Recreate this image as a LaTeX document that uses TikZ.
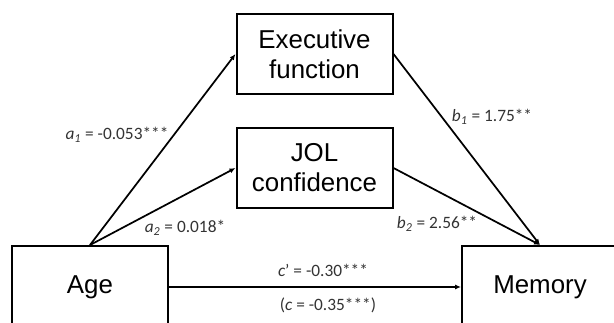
\documentclass[tikz,border=0pt]{standalone}
\usepackage{fontspec}
\setmainfont{Liberation Sans}
\newfontfamily\coeffont{Carlito}
\usepackage{tikz}
\usetikzlibrary{arrows.meta}
\definecolor{coefgray}{HTML}{333333}

\begin{document}
\begin{tikzpicture}[x=0.75pt, y=-0.75pt, >={Latex[length=4.5pt, width=3.8pt]}, line width=1.3pt]
        \useasboundingbox (0,0) rectangle (614,323);
        % Define boxes for the variables and the coefficient labels
        \tikzset{var/.style={draw, rectangle, line width=1.5pt, minimum width=117pt, minimum height=60pt, align=center, font=\fontsize{19.4}{22.5}\selectfont},
                 coef/.style={font=\coeffont\fontsize{13}{15}\selectfont, text=coefgray, inner sep=0pt}}
        \node[var] (exec) at (314.5,54) {Executive\\function};
        \node[var] (jol) at (314.5,168) {JOL\\confidence};
        \node[var, minimum height=61.5pt] (age) at (90,287) {Age};
        \node[var, minimum height=61.5pt] (memory) at (540,287) {Memory};

        % Paths through the mediators and the direct path
        \draw[->] (age.north) -- (exec.west);
        \draw[->] (age.north) -- (jol.west);
        \draw[->] (exec.east) -- (memory.north);
        \draw[->] (jol.east) -- (memory.north);
        \draw[->] (age.east) -- (memory.west);

        \node[coef] (a1) at (117,135) {\textit{a}\textsubscript{\textit{1}} = -0.053***};
        \node[coef] (b1) at (492,117) {\textit{b}\textsubscript{\textit{1}} = 1.75**};
        \node[coef] (a2) at (185,228) {\textit{a}\textsubscript{\textit{2}} = 0.018*};
        \node[coef] (b2) at (437,224) {\textit{b}\textsubscript{\textit{2}} = 2.56**};
        \node[coef] (cprime) at (323,270) {\textit{c}’ = -0.30***};
        \node[coef] (ctotal) at (328,305) {(\textit{c} = -0.35***)};
    \end{tikzpicture}
\end{document}
